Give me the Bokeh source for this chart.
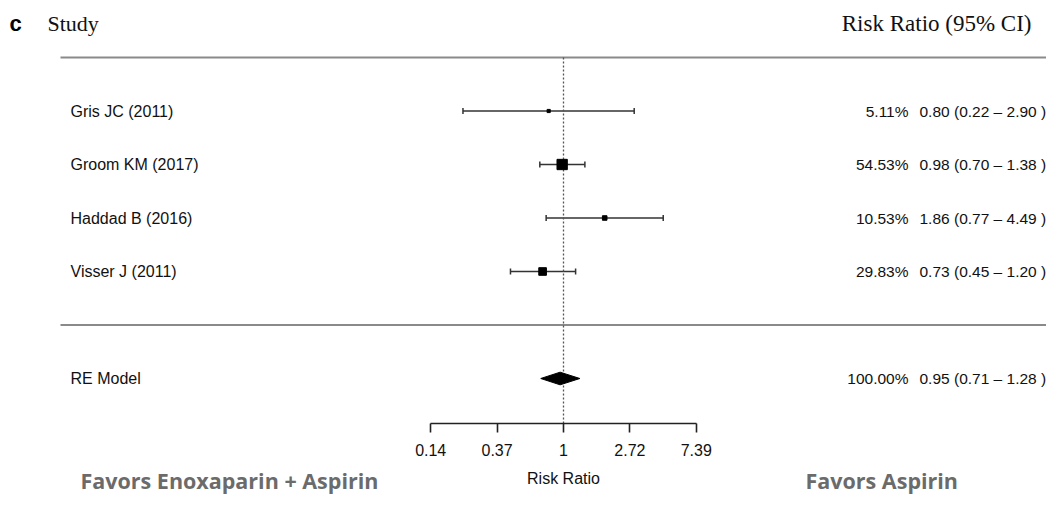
import numpy as np
from bokeh.plotting import figure
from bokeh.layouts import column
from bokeh.models import (Range1d, FixedTicker, ColumnDataSource, Whisker, TeeHead)
from bokeh.core.properties import value
from bokeh.embed import file_html
from bokeh.resources import INLINE

# ---- data ----
studies = ["Gris JC (2011)", "Groom KM (2017)", "Haddad B (2016)", "Visser J (2011)"]
rr = [0.80, 0.98, 1.86, 0.73]
lo = [0.22, 0.70, 0.77, 0.45]
hi = [2.90, 1.38, 4.49, 1.20]
weights = [5.11, 54.53, 10.53, 29.83]
re_label = "RE Model"
re_est, re_lo, re_hi, re_w = 0.95, 0.71, 1.28, 100.00
tick_vals = [float(np.exp(k)) for k in (-2, -1, 0, 1, 2)]
tick_labels = ["0.14", "0.37", "1", "2.72", "7.39"]
x_label = "Risk Ratio"
favors = ["Favors Enoxaparin + Aspirin", "Favors Aspirin"]

# ---- layout helpers (pixel -> log x) ----
X1, SCALE = 563.0, 66.4          # px of RR=1, px per ln unit
def px2x(px):
    return float(np.exp((px - X1) / SCALE))

W = 1046
FRAME_H = 423
BOTTOM = 40
H1 = FRAME_H + BOTTOM
H2 = 496 - H1
ROW0, ROW_PX = 324.5, 53.5      # px of row 0, px per row
rows = [4, 3, 2, 1]
re_row = -1
ymax = ROW0 / ROW_PX
ymin = (ROW0 - FRAME_H) / ROW_PX
def py2y(py):
    return (ROW0 - py) / ROW_PX
xr = Range1d(px2x(0), px2x(W))

p = figure(width=W, height=H1, output_backend="svg", toolbar_location=None,
           x_axis_type="log", y_axis_location=None,
           x_range=xr, y_range=Range1d(ymin, ymax),
           min_border_left=0, min_border_right=0, min_border_top=0,
           min_border_bottom=BOTTOM, outline_line_color=None)
p.grid.visible = False
p.background_fill_color = "white"
p.border_fill_color = "white"

ax = p.xaxis[0]
ax.ticker = FixedTicker(ticks=tick_vals)
ax.bounds = (tick_vals[0], tick_vals[-1])
ax.major_label_overrides = {v: l for v, l in zip(tick_vals, tick_labels)}
ax.major_label_text_font = "Liberation Sans"
ax.major_label_text_font_size = "16px"
ax.major_label_standoff = 11
ax.major_tick_in = 0
ax.major_tick_out = 9
ax.minor_tick_in = 0
ax.minor_tick_out = 0
ax.axis_line_width = 1.6
ax.major_tick_line_width = 1.6
ax.axis_line_color = "#222222"
ax.major_tick_line_color = "#222222"
ax.major_label_text_color = "#111111"

# horizontal rules
p.segment(x0=[px2x(60), px2x(60)], y0=[5, 0], x1=[px2x(W), px2x(W)], y1=[5, 0],
          line_color="#8a8a8a", line_width=2)

# reference line
p.segment(x0=[1.0], y0=[ymin], x1=[1.0], y1=[5], line_color="#555555",
          line_width=1.3, line_dash="2 2")

# CIs
src = ColumnDataSource(dict(y=rows, rr=rr, lo=lo, hi=hi,
                            size=[1.4 * np.sqrt(w) for w in weights]))
wk = Whisker(source=src, base="y", lower="lo", upper="hi", dimension="width",
             line_color="#333333", line_width=1.5,
             upper_head=TeeHead(size=6, line_color="#333333", line_width=1.5),
             lower_head=TeeHead(size=6, line_color="#333333", line_width=1.5))
p.add_layout(wk)
p.scatter(x="rr", y="y", size="size", marker="square", source=src,
          fill_color="black", line_color="black")

# summary diamond
h = 0.118
p.patch(x=[re_lo, re_est, re_hi, re_est], y=[re_row, re_row + h, re_row, re_row - h],
        fill_color="black", line_color="black")

# left labels
lab_font = value("Liberation Sans")
all_rows = rows + [re_row]
p.text(x=[px2x(70)] * 5, y=all_rows, text=studies + [re_label],
       text_font=lab_font, text_font_size="16px", text_color="#111111",
       text_align="left", text_baseline="middle")

# right columns
pct = [f"{w:.2f}%" for w in weights] + [f"{re_w:.2f}%"]
ci = [f"{a:.2f} ({b:.2f} \u2013 {c:.2f} )" for a, b, c in
      zip(rr + [re_est], lo + [re_lo], hi + [re_hi])]
p.text(x=[px2x(908)] * 5, y=all_rows, text=pct, text_font=lab_font,
       text_font_size="15.5px", text_color="#111111", text_align="right",
       text_baseline="middle")
p.text(x=[px2x(919)] * 5, y=all_rows, text=ci, text_font=lab_font,
       text_font_size="15.5px", text_color="#111111", text_align="left",
       text_baseline="middle")

# headers
hy = py2y(23)
p.text(x=[px2x(9)], y=[hy], text=["c"], text_font=lab_font, text_font_style="bold",
       text_font_size="22px", text_color="black", text_baseline="middle")
p.text(x=[px2x(47)], y=[hy], text=["Study"], text_font=value("Liberation Serif"),
       text_font_size="22px", text_color="#111111", text_baseline="middle")
p.text(x=[px2x(1031)], y=[hy], text=["Risk Ratio (95% CI)"],
       text_font=value("Liberation Serif"), text_font_size="23px",
       text_color="#111111", text_baseline="middle", text_align="right")

# bottom strip: axis title and "favors" captions
p2 = figure(width=W, height=H2, output_backend="svg", toolbar_location=None,
            x_axis_type="log", x_axis_location=None, y_axis_location=None,
            x_range=xr, y_range=Range1d(0, H2),
            min_border_left=0, min_border_right=0, min_border_top=0,
            min_border_bottom=0, outline_line_color=None)
p2.grid.visible = False
p2.text(x=[1.0], y=[H2 - (478 - H1)], text=[x_label], text_font=lab_font,
        text_font_size="16px", text_color="#111111", text_align="center",
        text_baseline="middle")
p2.text(x=[px2x(80), px2x(805)], y=[H2 - (480 - H1)] * 2, text=favors,
        text_font=value("Open Sans"), text_font_style="bold",
        text_font_size="21.5px", text_color="#6b6b6b", text_align="left",
        text_baseline="middle")

layout = column(p, p2, spacing=0)
open("out.html", "w").write(file_html(layout, INLINE))
